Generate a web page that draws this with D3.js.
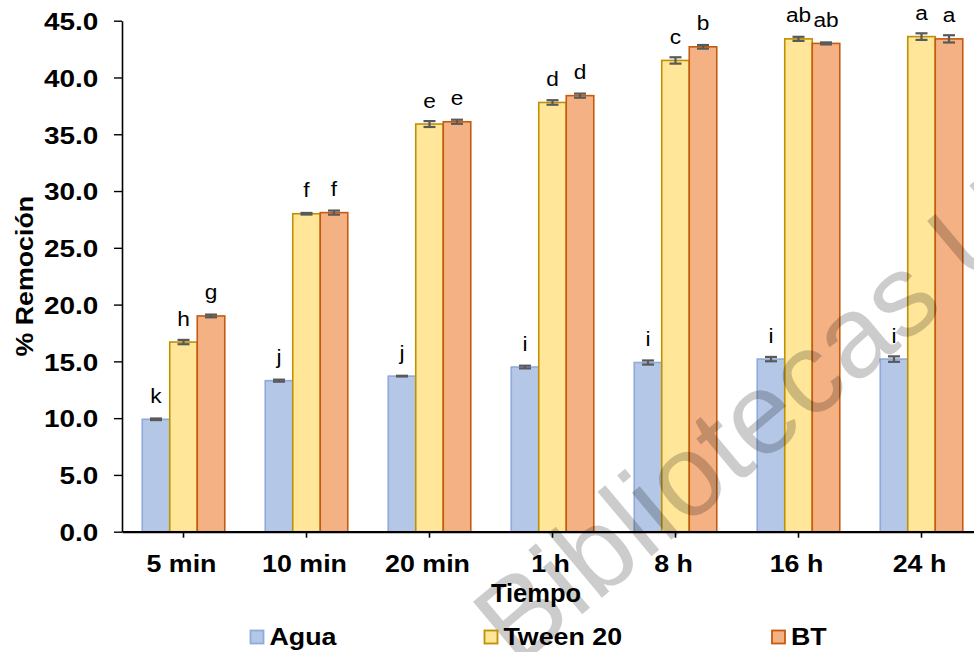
<!DOCTYPE html>
<html>
<head>
<meta charset="utf-8">
<script src="https://cdn.jsdelivr.net/npm/d3@7"></script>
<style>
  html, body { margin: 0; padding: 0; background: #fff; }
  svg { display: block; }
  text { font-family: "Liberation Sans", Arial, sans-serif; }
</style>
</head>
<body>
<svg id="chart" width="974" height="652"></svg>
<script>
// Categories (time of treatment)
const categories = ["5 min", "10 min", "20 min", "1 h", "8 h", "16 h", "24 h"];
const seriesNames = ["Agua", "Tween 20", "BT"];

// % removal per treatment, with error (± SD)
const agua      = [9.9, 13.3, 13.7, 14.5, 14.9, 15.2, 15.2];
const aguaErr   = [0.07, 0.09, 0.03, 0.12, 0.18, 0.19, 0.24];
const tween     = [16.7, 28.0, 35.9, 37.8, 41.5, 43.4, 43.6];
const tweenErr  = [0.19, 0.07, 0.26, 0.2, 0.28, 0.18, 0.29];
const bt        = [19.0, 28.1, 36.1, 38.4, 42.7, 43.0, 43.4];
const btErr     = [0.12, 0.18, 0.18, 0.18, 0.16, 0.09, 0.32];

// Significance letters
const aguaLetters  = ["k", "j", "j", "i", "i", "i", "i"];
const tweenLetters = ["h", "f", "e", "d", "c", "ab", "a"];
const btLetters    = ["g", "f", "e", "d", "b", "ab", "a"];

const yTicks = [0, 5, 10, 15, 20, 25, 30, 35, 40, 45];

const seriesValues  = [agua, tween, bt];
const seriesErrors  = [aguaErr, tweenErr, btErr];
const seriesLetters = [aguaLetters, tweenLetters, btLetters];
const fills   = ["#b4c7e7", "#ffe699", "#f4b183"];
const strokes = ["#8faadc", "#bf9000", "#c55a11"];

// bold labels are drawn slightly widened
const WIDEN = 1.14;

const svg = d3.select("#chart");
const plotLeft = 122, plotBottom = 531.7, plotTop = 20.7, step = 123;

const x0 = d3.scaleBand()
  .domain(categories)
  .range([plotLeft, plotLeft + step * categories.length])
  .paddingInner(0.329)
  .paddingOuter(0.1645);

const x1 = d3.scaleBand()
  .domain(seriesNames)
  .range([0, x0.bandwidth()]);

const y = d3.scaleLinear().domain([0, 45]).range([plotBottom, plotTop]);

// rows: one per category × series
const rows = [];
categories.forEach((c, i) => {
  seriesNames.forEach((s, j) => {
    rows.push({ cat: c, series: s, j, v: seriesValues[j][i], e: seriesErrors[j][i], lab: seriesLetters[j][i] });
  });
});

// bars
svg.append("g").selectAll("rect").data(rows).join("rect")
  .attr("x", d => x0(d.cat) + x1(d.series))
  .attr("y", d => y(d.v))
  .attr("width", x1.bandwidth())
  .attr("height", d => y(0) - y(d.v))
  .attr("fill", d => fills[d.j])
  .attr("stroke", d => strokes[d.j])
  .attr("stroke-width", 1.6);

// watermark
svg.append("text")
  .attr("transform", "translate(517,669) rotate(-40)")
  .attr("font-size", 116)
  .attr("fill", "#000").attr("fill-opacity", 0.2)
  .text("Bibliotecas UA");

// error bars
const eg = svg.append("g").attr("stroke", "#595959").attr("stroke-width", 2.2);
rows.forEach(d => {
  const cx = x0(d.cat) + x1(d.series) + x1.bandwidth() / 2;
  eg.append("line").attr("x1", cx).attr("x2", cx).attr("y1", y(d.v + d.e)).attr("y2", y(d.v - d.e));
  eg.append("line").attr("x1", cx - 6).attr("x2", cx + 6).attr("y1", y(d.v + d.e)).attr("y2", y(d.v + d.e));
  eg.append("line").attr("x1", cx - 6).attr("x2", cx + 6).attr("y1", y(d.v - d.e)).attr("y2", y(d.v - d.e));
});

// significance letters
svg.append("g").selectAll("text").data(rows).join("text")
  .attr("transform", d => `translate(${x0(d.cat) + x1(d.series) + x1.bandwidth() / 2},${y(d.v) - 16.5}) scale(1.08,1)`)
  .attr("text-anchor", "middle")
  .attr("font-size", 21)
  .attr("fill", "#000")
  .text(d => d.lab);

// y axis
const yAxis = svg.append("g")
  .attr("transform", `translate(${plotLeft},0)`)
  .call(d3.axisLeft(y).tickValues(yTicks).tickFormat(d3.format(".1f")).tickSizeOuter(0).tickSizeInner(8));
yAxis.select(".domain").attr("stroke", "#000").attr("stroke-width", 1.6);
yAxis.selectAll(".tick line").attr("stroke", "#000").attr("stroke-width", 1.4);
yAxis.selectAll(".tick text")
  .attr("x", 0).attr("dy", "0.36em")
  .attr("transform", `translate(-23.7,0) scale(${WIDEN},1)`)
  .attr("font-family", "Liberation Sans, Arial, sans-serif")
  .attr("font-size", 24.5).attr("font-weight", "bold").attr("fill", "#000");

// x axis
const xAxis = svg.append("g")
  .attr("transform", `translate(0,${plotBottom})`)
  .call(d3.axisBottom(x0).tickSizeOuter(0).tickSizeInner(6));
xAxis.select(".domain").attr("stroke", "#000").attr("stroke-width", 2.2);
xAxis.selectAll(".tick line").attr("stroke", "#000").attr("stroke-width", 1.6);
xAxis.selectAll(".tick text")
  .attr("y", 0).attr("dy", 0)
  .attr("transform", `translate(-2,40) scale(${WIDEN},1)`)
  .attr("font-family", "Liberation Sans, Arial, sans-serif")
  .attr("font-size", 23.5).attr("font-weight", "bold").attr("fill", "#000");

// axis titles
svg.append("text")
  .attr("x", 536).attr("y", 602)
  .attr("text-anchor", "middle")
  .attr("font-size", 25.5).attr("font-weight", "bold")
  .text("Tiempo");

svg.append("text")
  .attr("transform", `translate(33,${(plotTop + plotBottom) / 2}) rotate(-90) scale(${WIDEN},1)`)
  .attr("text-anchor", "middle")
  .attr("font-size", 23.5).attr("font-weight", "bold")
  .text("% Remoción");

// legend
const legendX = [250.5, 484.5, 772];
const lg = svg.append("g");
seriesNames.forEach((s, j) => {
  lg.append("rect").attr("x", legendX[j]).attr("y", 630.5).attr("width", 13).attr("height", 13)
    .attr("fill", fills[j]).attr("stroke", strokes[j]).attr("stroke-width", 1.8);
  lg.append("text")
    .attr("transform", `translate(${legendX[j] + 19},645) scale(${WIDEN},1)`)
    .attr("font-size", 23.5).attr("font-weight", "bold").text(s);
});
</script>
</body>
</html>
